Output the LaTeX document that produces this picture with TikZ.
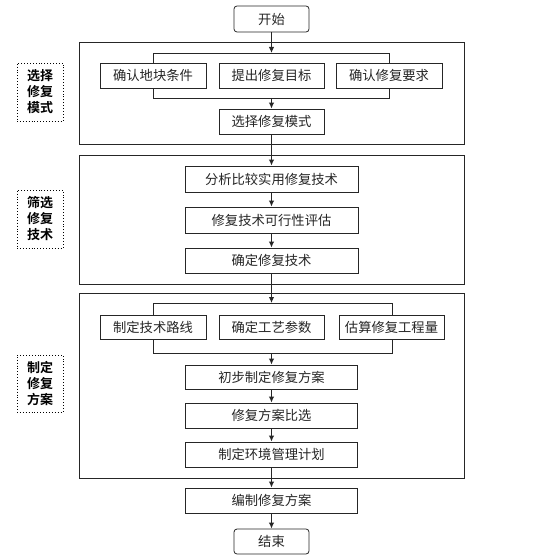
\documentclass[tikz,border=0pt]{standalone}
\usepackage{fontspec}
\newfontfamily\cjk{Noto Sans CJK SC}
\newfontfamily\cjkb{Noto Sans CJK SC Bold}
\usetikzlibrary{arrows.meta}
\tikzset{
  box/.style={draw=black!85, fill=white, line width=0.8pt, inner sep=0pt, minimum height=25pt,
    font=\cjk\fontsize{13.3}{14}\selectfont, text=black!85},
  termbox/.style={box, rounded corners=3pt},
  lab/.style={draw, dotted, line width=0.9pt, inner sep=0pt, minimum width=46pt, minimum height=58pt, align=center,
    font=\cjkb\fontsize{13}{16}\selectfont},
  frame/.style={draw=black!85, line width=0.8pt},
  link/.style={draw=black!85, line width=1.1pt, -{Latex[length=6pt,width=5.5pt]}}
}
\begin{document}
\begin{tikzpicture}[x=1pt,y=-1pt]
\useasboundingbox (0,0) rectangle (535,556);
% section frames
\draw[frame] (79,42) rectangle (464,144);
\draw[frame] (79,155) rectangle (464,284);
\draw[frame] (79,293) rectangle (464,478);
% brackets
\draw[frame] (153,53) rectangle (389,98);
\draw[frame] (153,303) rectangle (392,353);
% coordinates
\coordinate (t1) at (271.5,53);
\coordinate (t1b) at (271.5,98);
\coordinate (t3) at (271.5,303);
\coordinate (t3b) at (271.5,353);
% nodes
\node[termbox, minimum width=75pt, minimum height=26pt] (start) at (271.5,19) {开始};
\node[box, minimum width=106pt] (b11) at (153,75.5) {确认地块条件};
\node[box, minimum width=105pt] (b12) at (271.5,75.5) {提出修复目标};
\node[box, minimum width=106pt] (b13) at (389,75.5) {确认修复要求};
\node[box, minimum width=105pt] (b14) at (271.5,121.5) {选择修复模式};
\node[lab] (lab1) at (40,92) {选择\\修复\\模式};
\node[box, minimum width=173pt, minimum height=26pt] (b21) at (271.5,179) {分析比较实用修复技术};
\node[box, minimum width=173pt, minimum height=26pt] (b22) at (271.5,220) {修复技术可行性评估};
\node[box, minimum width=173pt] (b23) at (271.5,260.5) {确定修复技术};
\node[lab] (lab2) at (40,219) {筛选\\修复\\技术};
\node[box, minimum width=106pt, minimum height=24pt] (b31) at (153,327) {制定技术路线};
\node[box, minimum width=105pt, minimum height=24pt] (b32) at (271.5,327) {确定工艺参数};
\node[box, minimum width=105pt, minimum height=24pt] (b33) at (391.5,327) {估算修复工程量};
\node[box, minimum width=172pt, minimum height=24pt] (b34) at (271.5,377) {初步制定修复方案};
\node[box, minimum width=172pt] (b35) at (271.5,415.5) {修复方案比选};
\node[box, minimum width=172pt] (b36) at (271.5,454.5) {制定环境管理计划};
\node[lab, minimum height=57pt] (lab3) at (40,383.5) {制定\\修复\\方案};
\node[box, minimum width=172pt] (b4) at (271.5,500.5) {编制修复方案};
\node[termbox, minimum width=75pt] (end) at (271.5,541.5) {结束};
% connectors
\draw[link] (start.south) -- (t1);
\draw[link] (t1b) -- (b14.north);
\draw[link] (b14.south) -- (b21.north);
\draw[link] (b21.south) -- (b22.north);
\draw[link] (b22.south) -- (b23.north);
\draw[link] (b23.south) -- (t3);
\draw[link] (t3b) -- (b34.north);
\draw[link] (b34.south) -- (b35.north);
\draw[link] (b35.south) -- (b36.north);
\draw[link] (b36.south) -- (b4.north);
\draw[link] (b4.south) -- (end.north);
\end{tikzpicture}
\end{document}
